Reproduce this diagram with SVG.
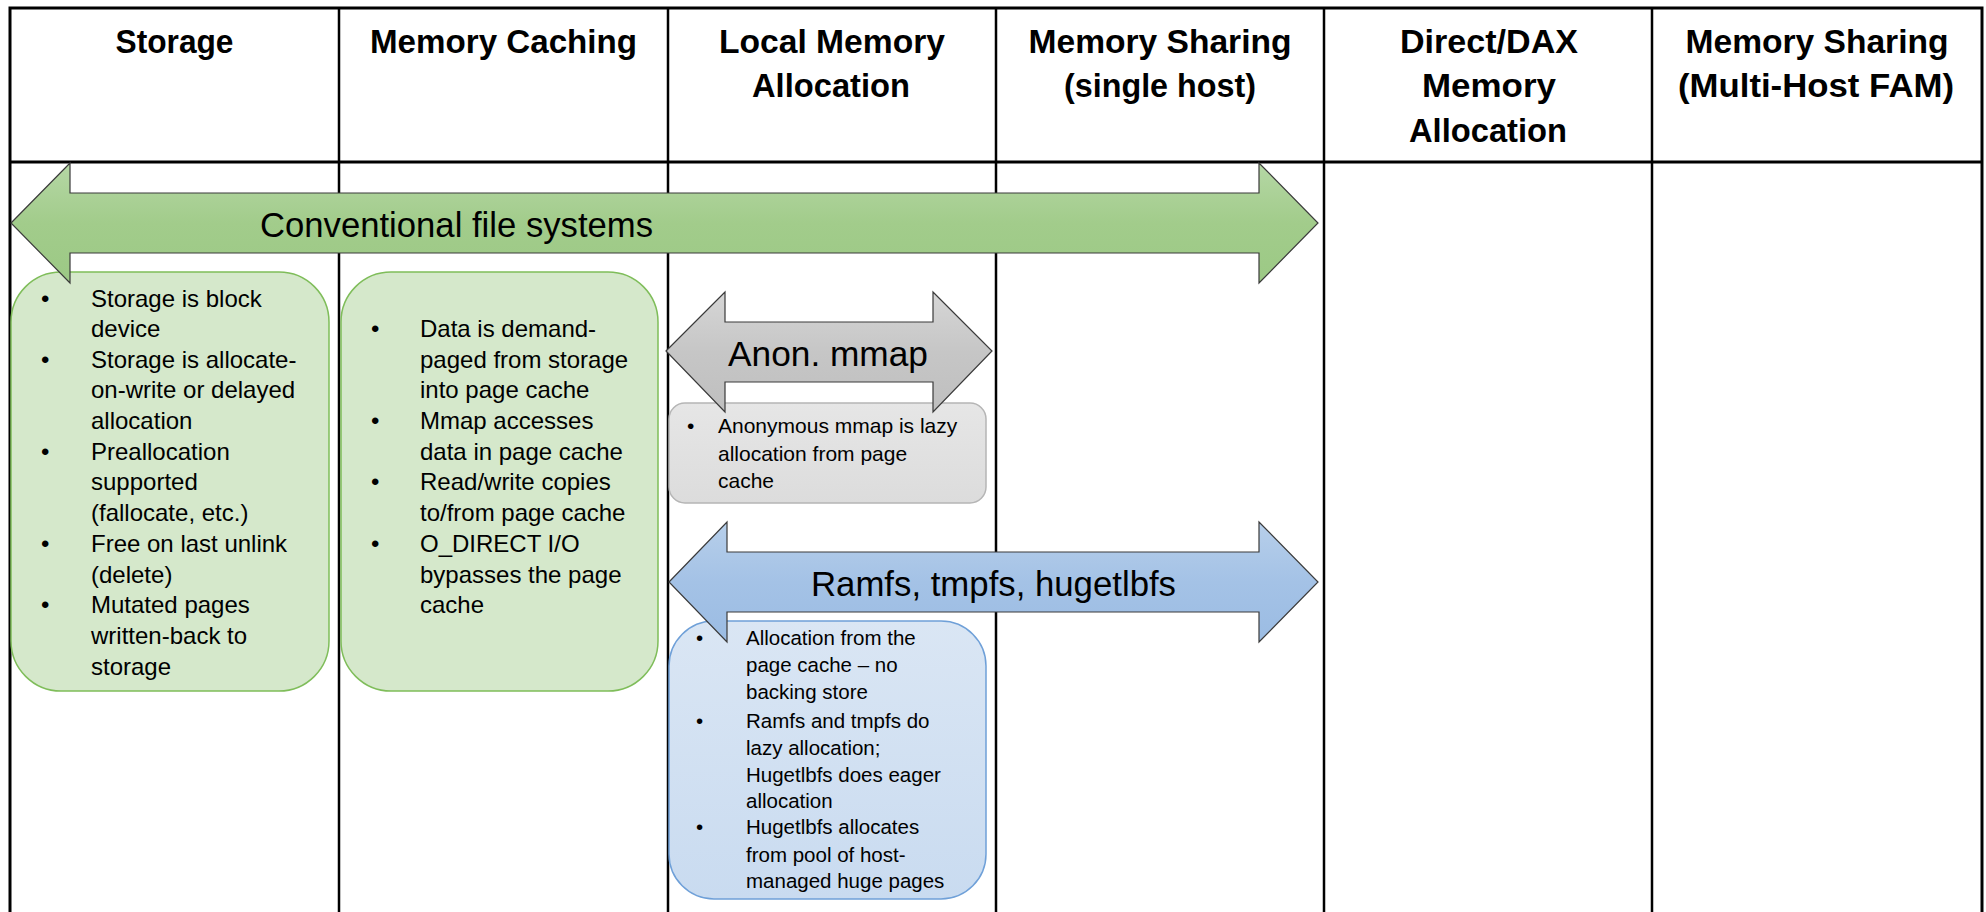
<svg xmlns="http://www.w3.org/2000/svg" width="1986" height="912" viewBox="0 0 1986 912">
<defs>
<linearGradient id="gGreen" x1="0" y1="0" x2="0" y2="1"><stop offset="0" stop-color="#b5d7a5"/><stop offset="0.5" stop-color="#a2cc8b"/><stop offset="1" stop-color="#9cc985"/></linearGradient>
<linearGradient id="gGray" x1="0" y1="0" x2="0" y2="1"><stop offset="0" stop-color="#d6d6d6"/><stop offset="0.5" stop-color="#c6c6c6"/><stop offset="1" stop-color="#bfbfbf"/></linearGradient>
<linearGradient id="gBlue" x1="0" y1="0" x2="0" y2="1"><stop offset="0" stop-color="#b7cfea"/><stop offset="0.5" stop-color="#a4c2e6"/><stop offset="1" stop-color="#9bbce3"/></linearGradient>
<linearGradient id="gBlueBox" x1="0" y1="0" x2="0" y2="1"><stop offset="0" stop-color="#dae6f4"/><stop offset="1" stop-color="#c9dbf0"/></linearGradient>
<linearGradient id="gGrayBox" x1="0" y1="0" x2="0" y2="1"><stop offset="0" stop-color="#e6e6e6"/><stop offset="1" stop-color="#dcdcdc"/></linearGradient>
</defs>
<style>
.grid{stroke:#000;fill:none}
.hdr{font-family:"Liberation Sans",Arial,sans-serif;font-weight:bold;font-size:33px;fill:#000;text-anchor:middle}
.lbl{font-family:"Liberation Sans",Arial,sans-serif;font-size:35px;fill:#000}
.arrow{stroke:#3a3a3a;stroke-width:1.2}
.gbox{fill:#d5e8cb;stroke:#7fbd5a;stroke-width:1.5}
.gt{font-family:"Liberation Sans",Arial,sans-serif;font-size:24px;fill:#000}
.at{font-family:"Liberation Sans",Arial,sans-serif;font-size:21px;fill:#000}
.bt{font-family:"Liberation Sans",Arial,sans-serif;font-size:20.5px;fill:#000}
</style>
<rect width="1986" height="912" fill="#fff"/>
<g id="table">
<rect class="grid" x="10" y="8" width="1972" height="920" stroke-width="3"/>
<line class="grid" x1="10" y1="162" x2="1982" y2="162" stroke-width="3"/>
<g stroke-width="2.5" class="grid">
<line x1="339" y1="8" x2="339" y2="912"/>
<line x1="668" y1="8" x2="668" y2="912"/>
<line x1="996" y1="8" x2="996" y2="912"/>
<line x1="1324" y1="8" x2="1324" y2="912"/>
<line x1="1652" y1="8" x2="1652" y2="912"/>
</g>
<text class="hdr" x="174.5" y="53" textLength="118" lengthAdjust="spacingAndGlyphs">Storage</text>
<text class="hdr" x="503.5" y="53" textLength="267" lengthAdjust="spacingAndGlyphs">Memory Caching</text>
<text class="hdr" x="832" y="53" textLength="226" lengthAdjust="spacingAndGlyphs">Local Memory</text>
<text class="hdr" x="831" y="97" textLength="158" lengthAdjust="spacingAndGlyphs">Allocation</text>
<text class="hdr" x="1160" y="53" textLength="263" lengthAdjust="spacingAndGlyphs">Memory Sharing</text>
<text class="hdr" x="1160" y="97" textLength="192" lengthAdjust="spacingAndGlyphs">(single host)</text>
<text class="hdr" x="1489" y="53" textLength="178" lengthAdjust="spacingAndGlyphs">Direct/DAX</text>
<text class="hdr" x="1489" y="97" textLength="134" lengthAdjust="spacingAndGlyphs">Memory</text>
<text class="hdr" x="1488" y="142" textLength="158" lengthAdjust="spacingAndGlyphs">Allocation</text>
<text class="hdr" x="1817" y="53" textLength="263" lengthAdjust="spacingAndGlyphs">Memory Sharing</text>
<text class="hdr" x="1816" y="97" textLength="276" lengthAdjust="spacingAndGlyphs">(Multi-Host FAM)</text>
</g>
<g id="storage-box">
<rect class="gbox" x="11" y="272" width="318" height="419" rx="50" ry="50"/>
<g class="gt">
<text x="41" y="307">•</text><text x="91" y="307">Storage is block</text>
<text x="91" y="337">device</text>
<text x="41" y="368">•</text><text x="91" y="368">Storage is allocate-</text>
<text x="91" y="398">on-write or delayed</text>
<text x="91" y="429">allocation</text>
<text x="41" y="460">•</text><text x="91" y="460">Preallocation</text>
<text x="91" y="490">supported</text>
<text x="91" y="521">(fallocate, etc.)</text>
<text x="41" y="552">•</text><text x="91" y="552">Free on last unlink</text>
<text x="91" y="583">(delete)</text>
<text x="41" y="613">•</text><text x="91" y="613">Mutated pages</text>
<text x="91" y="644">written-back to</text>
<text x="91" y="675">storage</text>
</g>
</g>
<g id="caching-box">
<rect class="gbox" x="341" y="272" width="317" height="419" rx="50" ry="50"/>
<g class="gt">
<text x="371" y="337">•</text><text x="420" y="337">Data is demand-</text>
<text x="420" y="368">paged from storage</text>
<text x="420" y="398">into page cache</text>
<text x="371" y="429">•</text><text x="420" y="429">Mmap accesses</text>
<text x="420" y="460">data in page cache</text>
<text x="371" y="490">•</text><text x="420" y="490">Read/write copies</text>
<text x="420" y="521">to/from page cache</text>
<text x="371" y="552">•</text><text x="420" y="552">O_DIRECT I/O</text>
<text x="420" y="583">bypasses the page</text>
<text x="420" y="613">cache</text>
</g>
</g>
<g id="anon-box">
<rect x="669" y="403" width="317" height="100" rx="16" ry="16" fill="url(#gGrayBox)" stroke="#b5b5b5" stroke-width="1.5"/>
<g class="at">
<text x="687" y="433">•</text><text x="718" y="433">Anonymous mmap is lazy</text>
<text x="718" y="461">allocation from page</text>
<text x="718" y="488">cache</text>
</g>
</g>
<g id="ramfs-box">
<rect x="669" y="621" width="317" height="278" rx="45" ry="45" fill="url(#gBlueBox)" stroke="#6fa0d8" stroke-width="1.5"/>
<g class="bt">
<text x="696" y="645">•</text><text x="746" y="645">Allocation from the</text>
<text x="746" y="672">page cache – no</text>
<text x="746" y="699">backing store</text>
<text x="696" y="728">•</text><text x="746" y="728">Ramfs and tmpfs do</text>
<text x="746" y="755">lazy allocation;</text>
<text x="746" y="782">Hugetlbfs does eager</text>
<text x="746" y="808">allocation</text>
<text x="696" y="834">•</text><text x="746" y="834">Hugetlbfs allocates</text>
<text x="746" y="862">from pool of host-</text>
<text x="746" y="888">managed huge pages</text>
</g>
</g>
<g id="conventional-arrow">
<polygon class="arrow" fill="url(#gGreen)" points="11,223 70,163 70,193 1259,193 1259,163 1318,223 1259,283 1259,253 70,253 70,283"/>
<text class="lbl" x="260" y="237" textLength="393" lengthAdjust="spacingAndGlyphs">Conventional file systems</text>
</g>
<g id="anon-arrow">
<polygon class="arrow" fill="url(#gGray)" points="666,351 725,292 725,322 933,322 933,292 992,351 933,412 933,382 725,382 725,412"/>
<text class="lbl" x="728" y="366" textLength="200" lengthAdjust="spacingAndGlyphs">Anon. mmap</text>
</g>
<g id="ramfs-arrow">
<polygon class="arrow" fill="url(#gBlue)" points="669,582 727,522 727,552 1259,552 1259,522 1318,582 1259,642 1259,612 727,612 727,642"/>
<text class="lbl" x="811" y="596" textLength="365" lengthAdjust="spacingAndGlyphs">Ramfs, tmpfs, hugetlbfs</text>
</g>
<g id="connectors"/>
</svg>
